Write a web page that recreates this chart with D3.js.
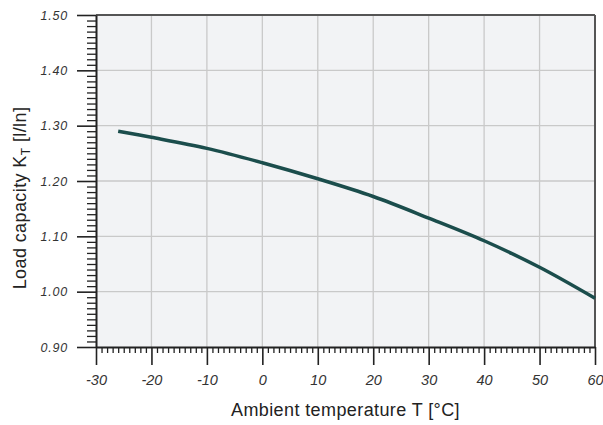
<!DOCTYPE html>
<html>
<head>
<meta charset="utf-8">
<script src="https://cdn.jsdelivr.net/npm/d3@7"></script>
<style>
  body { margin: 0; background: #fff; }
  svg { display: block; font-family: "Liberation Sans", Arial, sans-serif; }
</style>
</head>
<body>
<div id="chart"></div>
<script>
// data
const temps = [-26, -20, -10, 0, 10, 20, 30, 40, 50, 60];
const loadCap = [1.290, 1.279, 1.259, 1.233, 1.204, 1.172, 1.133, 1.092, 1.044, 0.988];
const xTicks = [-30, -20, -10, 0, 10, 20, 30, 40, 50, 60];
const yTicks = [0.90, 1.00, 1.10, 1.20, 1.30, 1.40, 1.50];

const width = 603, height = 425;
const margin = { top: 15, right: 8, bottom: 78, left: 96 };
const iw = width - margin.left - margin.right;
const ih = height - margin.top - margin.bottom;

const svg = d3.select("#chart").append("svg")
    .attr("width", width)
    .attr("height", height);

const g = svg.append("g")
    .attr("transform", `translate(${margin.left},${margin.top})`);

const x = d3.scaleLinear().domain([-30, 60]).range([0, iw]);
const y = d3.scaleLinear().domain([0.9, 1.5]).range([ih, 0]);

// background
g.append("rect")
    .attr("width", iw).attr("height", ih)
    .attr("fill", "#f2f3f5");

// grid
g.selectAll(".vgrid").data(xTicks.slice(1, -1)).enter().append("line")
    .attr("x1", d => x(d)).attr("x2", d => x(d))
    .attr("y1", 0).attr("y2", ih)
    .attr("stroke", "#c9c9c9").attr("stroke-width", 1.3);
g.selectAll(".hgrid").data(yTicks.slice(1, -1)).enter().append("line")
    .attr("x1", 0).attr("x2", iw)
    .attr("y1", d => y(d)).attr("y2", d => y(d))
    .attr("stroke", "#c9c9c9").attr("stroke-width", 1.3);

// top and right frame
g.append("line").attr("x1", 0).attr("x2", iw).attr("y1", 0).attr("y2", 0)
    .attr("stroke", "#555").attr("stroke-width", 2);
g.append("line").attr("x1", iw).attr("x2", iw).attr("y1", 0).attr("y2", ih)
    .attr("stroke", "#555").attr("stroke-width", 2);

// minor ticks
const xMinor = d3.range(-30, 60.5, 1).filter(v => v % 10 !== 0);
const yMinor = d3.range(90, 150.5, 1).filter(v => v % 10 !== 0).map(v => v / 100);

g.append("g")
    .attr("transform", `translate(0,${ih})`)
    .call(d3.axisBottom(x).tickValues(xMinor).tickSize(6).tickFormat(""))
    .call(a => a.select(".domain").remove())
    .call(a => a.selectAll("line").attr("stroke", "#222").attr("stroke-width", 1.3));

g.append("g")
    .call(d3.axisLeft(y).tickValues(yMinor).tickSize(9).tickFormat(""))
    .call(a => a.select(".domain").remove())
    .call(a => a.selectAll("line").attr("stroke", "#222").attr("stroke-width", 1.3));

const tickFont = "'Liberation Sans', Arial, sans-serif";

// major axes
g.append("g")
    .attr("transform", `translate(0,${ih})`)
    .call(d3.axisBottom(x).tickValues(xTicks).tickSize(18).tickPadding(10).tickSizeOuter(0)
        .tickFormat(d => String(d)))
    .call(a => a.select(".domain").attr("stroke", "#222").attr("stroke-width", 2))
    .call(a => a.selectAll("line").attr("stroke", "#222").attr("stroke-width", 1.6))
    .call(a => a.selectAll("text")
        .attr("font-size", 14.5).attr("font-style", "italic").attr("fill", "#333")
        .attr("font-family", tickFont));

g.append("g")
    .call(d3.axisLeft(y).tickValues(yTicks).tickSize(19).tickPadding(9).tickSizeOuter(0)
        .tickFormat(d3.format(".2f")))
    .call(a => a.select(".domain").attr("stroke", "#222").attr("stroke-width", 2))
    .call(a => a.selectAll("line").attr("stroke", "#222").attr("stroke-width", 1.6))
    .call(a => a.selectAll("text")
        .attr("font-size", 12.5).attr("font-style", "italic").attr("fill", "#333")
        .attr("letter-spacing", 0.8).attr("font-family", tickFont));

// curve
const line = d3.line()
    .x((d, i) => x(temps[i]))
    .y(d => y(d))
    .curve(d3.curveCatmullRom);

g.append("path")
    .datum(loadCap)
    .attr("d", line)
    .attr("fill", "none")
    .attr("stroke", "#1b4d4c")
    .attr("stroke-width", 3.5);

// axis titles
svg.append("text")
    .attr("x", margin.left + iw / 2)
    .attr("y", 416)
    .attr("text-anchor", "middle")
    .attr("font-size", 18)
    .attr("letter-spacing", 0.4)
    .attr("fill", "#222")
    .text("Ambient temperature T [°C]");

const yl = svg.append("text")
    .attr("transform", "translate(26,198) rotate(-90)")
    .attr("text-anchor", "middle")
    .attr("font-size", 18)
    .attr("letter-spacing", 0.4)
    .attr("fill", "#222");
yl.append("tspan").text("Load capacity K");
yl.append("tspan").attr("font-size", 12).attr("dy", 4).text("T");
yl.append("tspan").attr("dy", -4).text(" [l/ln]");
</script>
</body>
</html>
